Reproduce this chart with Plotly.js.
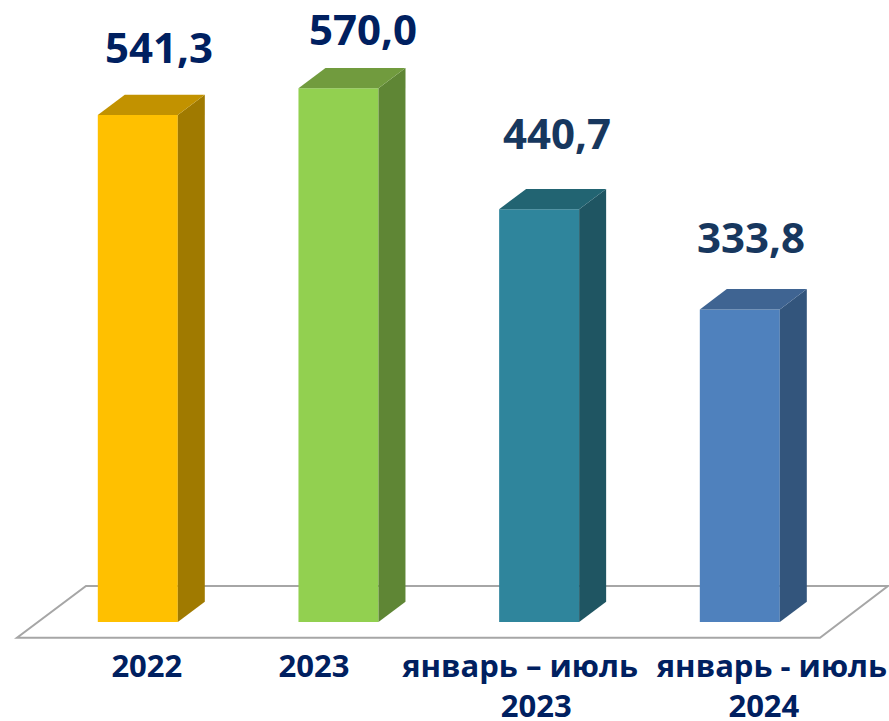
<!DOCTYPE html>
<html><head><meta charset="utf-8">
<script src="https://cdn.plot.ly/plotly-3.0.1.min.js"></script>
<style>html,body{margin:0;padding:0;background:#fff}</style>
</head><body><div id="chart" style="width:889px;height:721px"></div>
<script>
// Data
const values = [541.3, 570.0, 440.7, 333.8];
const categories = [0, 1, 2, 3];
const tickLabels = ['2022', '2023', 'январь – июль<br>\u00a0\u00a0\u00a0\u00a02023', 'январь - июль<br>2024\u00a0\u00a0'];
const tickPositions = [0.045, 0.878, 1.905, 3.16];
const frontColors = ['#FFC000', '#92D050', '#2F859C', '#4F81BD'];
const sideColors = ['#A07A00', '#5F8635', '#1F5562', '#33557C'];
const topColors = ['#C29200', '#719B3E', '#226472', '#3F6492'];
const labelColors = ['#002060', '#002060', '#17375E', '#17375E'];
const labelShiftX = [21, 25, 18, 11];
const labelShiftY = [69, 60, 77, 73];

// Scale: pixels per axis unit, used to express the 3D depth in axis units
const W = 889, H = 721, marginB = 81;
const pxX = 200.67, pxY = 0.9365, x0 = 137.8, y0 = 622;
const xRange = [-x0 / pxX, (W - x0) / pxX];
const yRange = [(y0 - (H - marginB)) / pxY, y0 / pxY];
const barW = 80 / pxX, dx = 27 / pxX, dy = 20.3 / pxY;
const X = p => (p - x0) / pxX, Y = p => (y0 - p) / pxY;

const traces = [{
  type: 'bar', x: categories, y: values, width: barW,
  marker: {color: frontColors, line: {width: 0}}, hoverinfo: 'skip', cliponaxis: false
}];
categories.forEach((c, i) => {
  const l = c - barW / 2, r = c + barW / 2, v = values[i];
  traces.push({type: 'scatter', mode: 'lines', fill: 'toself', fillcolor: sideColors[i],
    x: [r, r + dx, r + dx, r, r], y: [0, dy, v + dy, v, 0],
    line: {width: 0, color: sideColors[i]}, hoverinfo: 'skip', cliponaxis: false});
  traces.push({type: 'scatter', mode: 'lines', fill: 'toself', fillcolor: topColors[i],
    x: [l, l + dx, r + dx, r, l], y: [v, v + dy, v + dy, v, v],
    line: {width: 0, color: topColors[i]}, hoverinfo: 'skip', cliponaxis: false});
});

const annotations = categories.map((c, i) => ({
  x: c, y: values[i], xref: 'x', yref: 'y', showarrow: false,
  xanchor: 'center', yanchor: 'middle',
  text: values[i].toFixed(1).replace('.', ','),
  xshift: labelShiftX[i], yshift: labelShiftY[i],
  font: {family: '"Open Sans", sans-serif', size: 42, color: labelColors[i], weight: 700}
}));

const floor = {
  type: 'path', layer: 'below', xref: 'x', yref: 'y',
  path: 'M' + X(17) + ',' + Y(637.7) + ' L' + X(820) + ',' + Y(637.7) +
        ' L' + X(888) + ',' + Y(586) + ' L' + X(86) + ',' + Y(586) + ' Z',
  line: {color: '#A6A6A6', width: 2}, fillcolor: '#FFFFFF'
};

Plotly.newPlot('chart', traces, {
  width: W, height: H, showlegend: false,
  margin: {l: 0, r: 0, t: 0, b: marginB, pad: 0},
  paper_bgcolor: '#FFFFFF', plot_bgcolor: '#FFFFFF',
  xaxis: {range: xRange, tickmode: 'array', tickvals: tickPositions, ticktext: tickLabels,
    showgrid: false, zeroline: false, showline: false, ticks: '', automargin: false, tickangle: 0,
    ticklabeloverflow: 'allow', ticklabelstandoff: 5,
    tickfont: {family: '"Open Sans", sans-serif', size: 31, color: '#002060', weight: 700}},
  yaxis: {range: yRange, showticklabels: false, showgrid: false, zeroline: false, showline: false, ticks: ''},
  shapes: [floor], annotations: annotations
}, {displayModeBar: false, staticPlot: true});
</script></body></html>
